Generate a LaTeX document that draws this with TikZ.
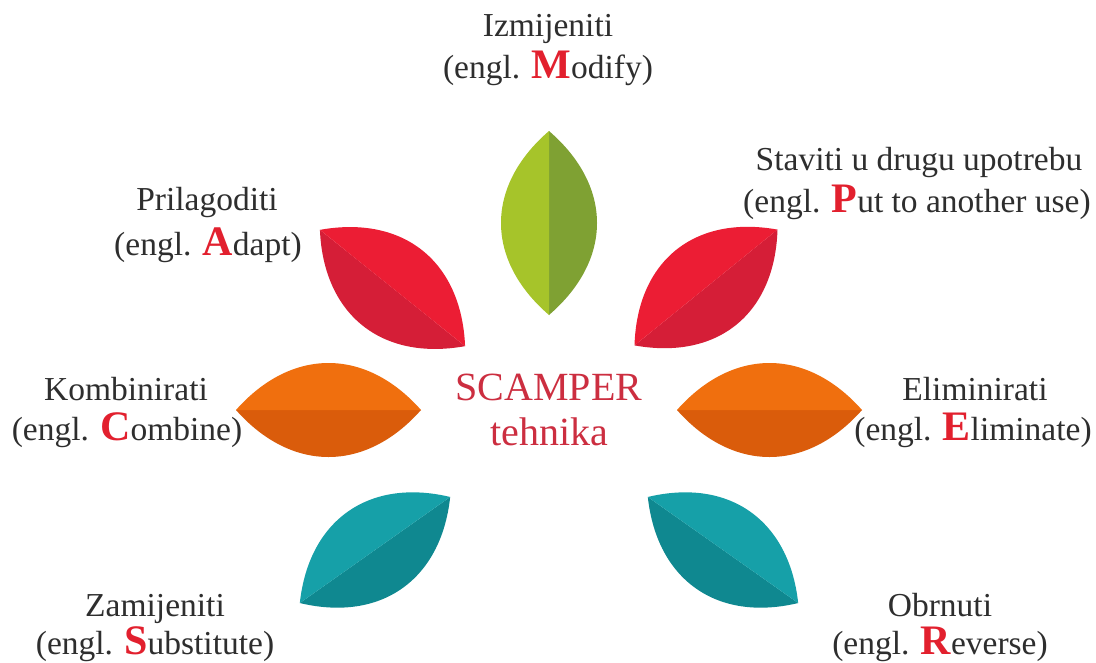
\documentclass[tikz,border=0pt]{standalone}
\usepackage{fontspec}
\setmainfont{Liberation Serif}
\definecolor{txt}{HTML}{2E2E2E}
\definecolor{hlred}{HTML}{E2202E}
\definecolor{scm}{HTML}{CC2E40}
\definecolor{gL}{HTML}{A6C42A}\definecolor{gD}{HTML}{7FA133}
\definecolor{rL}{HTML}{EC1D34}\definecolor{rD}{HTML}{D51E37}
\definecolor{oL}{HTML}{F06F0E}\definecolor{oD}{HTML}{DA5C0B}
\definecolor{tL}{HTML}{16A0A8}\definecolor{tD}{HTML}{0F8890}
\newcommand\leaf[7]{%
\begin{scope}[shift={(#1,#2)},rotate=#3]
\pgfmathsetmacro\lfh{#4/2}\pgfmathsetmacro\lfa{0.2*#4}\pgfmathsetmacro\lfc{4*#5/3}
\fill[#6] (-\lfh,0) .. controls (-\lfa,\lfc) and (\lfa,\lfc) .. (\lfh,0) -- cycle;
\fill[#7] (-\lfh,0) .. controls (-\lfa,-\lfc) and (\lfa,-\lfc) .. (\lfh,0) -- cycle;
\end{scope}}
\newcommand\K[1]{{\fontsize{42}{40}\selectfont\bfseries\color{hlred}#1}}
\tikzset{
  lbl/.style={font=\fontsize{33.5}{40}\selectfont, text=txt, anchor=base, inner sep=0pt},
  center/.style={font=\fontsize{40}{44}\selectfont, text=scm, anchor=base, inner sep=0pt}
}
\begin{document}
\begin{tikzpicture}[x=1pt,y=-1pt]
\useasboundingbox (0,0) rectangle (1096,662);
\fill[white] (0,0) rectangle (1096,662);
% petals: cx, cy, angle, length, half-width, dark half, light half
\leaf{549}{223}{90}{184}{48}{gD}{gL}
\leaf{392.5}{288}{-38.7}{186}{48}{rD}{rL}
\leaf{706}{287.5}{39}{184}{48}{rD}{rL}
\leaf{328.5}{410}{0}{185}{47}{oD}{oL}
\leaf{769.5}{410}{0}{185}{47}{oD}{oL}
\leaf{375}{550}{35.2}{184}{47}{tD}{tL}
\leaf{723}{550}{-35.2}{184}{47}{tD}{tL}
% centre
\node[center] (c1) at (549,400) {SCAMPER};
\node[center] (c2) at (549,445) {tehnika};
% labels
\node[lbl] (m1) at (548,36) {Izmijeniti};
\node[lbl] (m2) at (548,78) {(engl. \K{M}odify)};
\node[lbl] (p1) at (919,170) {Staviti u drugu upotrebu};
\node[lbl] (p2) at (917,212) {(engl. \K{P}ut to another use)};
\node[lbl] (a1) at (207,210) {Prilagoditi};
\node[lbl] (a2) at (208,255) {(engl. \K{A}dapt)};
\node[lbl] (k1) at (126,400) {Kombinirati};
\node[lbl] (k2) at (127,440) {(engl. \K{C}ombine)};
\node[lbl] (e1) at (975,400) {Eliminirati};
\node[lbl] (e2) at (973,440) {(engl. \K{E}liminate)};
\node[lbl] (s1) at (155,616) {Zamijeniti};
\node[lbl] (s2) at (155,654) {(engl. \K{S}ubstitute)};
\node[lbl] (r1) at (940,616) {Obrnuti};
\node[lbl] (r2) at (940,654) {(engl. \K{R}everse)};
\end{tikzpicture}
\end{document}
